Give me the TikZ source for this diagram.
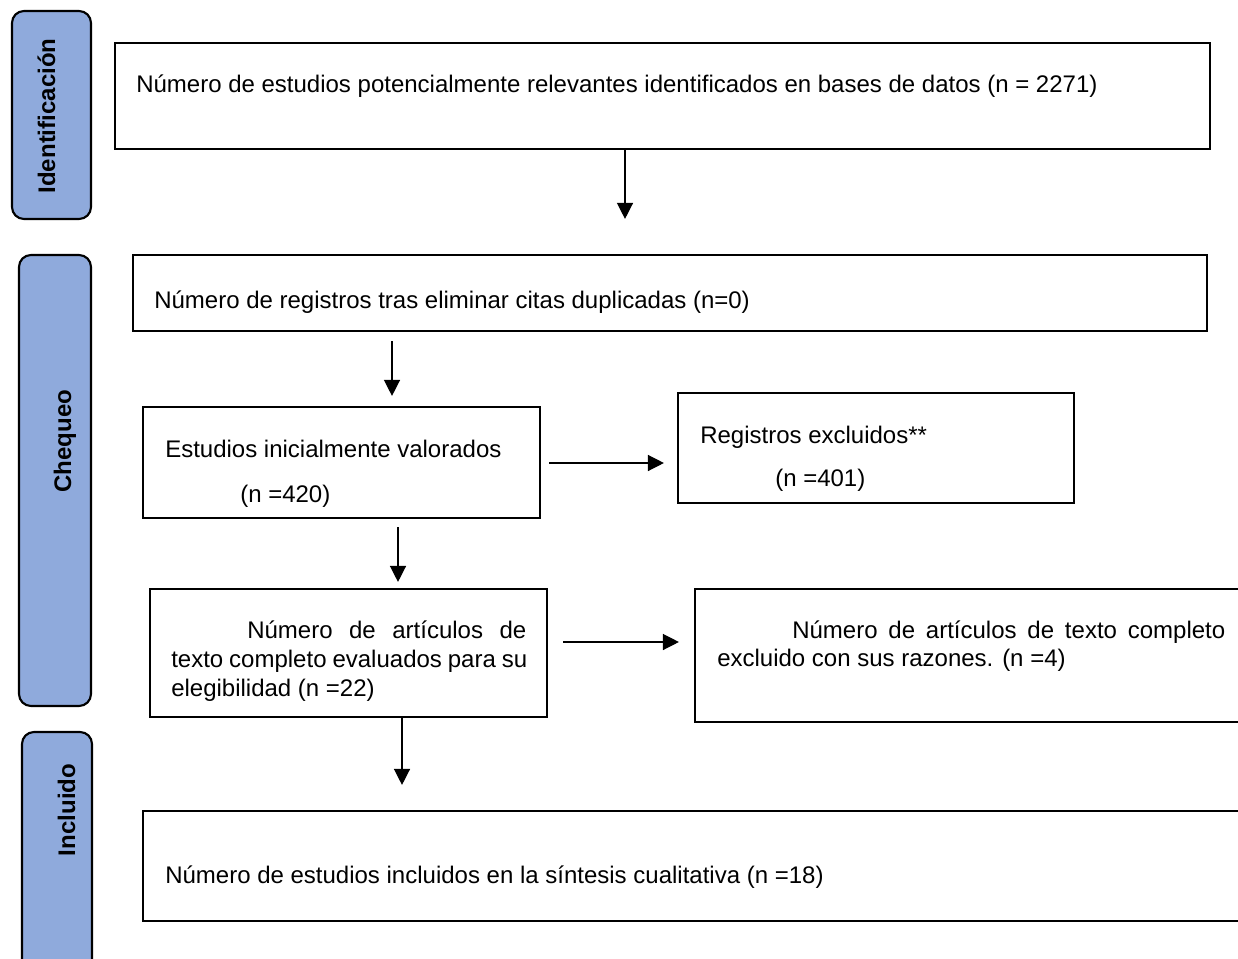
\documentclass[tikz,border=0pt]{standalone}
\usepackage{fontspec}
\setmainfont{Liberation Sans}
\usetikzlibrary{arrows.meta,fit}
\definecolor{tabblue}{HTML}{8FAADC}
\newcommand\diagfont{\fontsize{18}{21.6}\selectfont}
\begin{document}
\begin{tikzpicture}[x=0.75pt,y=-0.75pt,
  box/.style={draw, line width=1.6pt, inner sep=0pt},
  tab/.style={draw, line width=1.6pt, fill=tabblue, rounded corners=9pt, inner sep=0pt},
  txt/.style={inner sep=0pt, anchor=base west, font=\diagfont},
  tabtxt/.style={inner sep=0pt, rotate=90, anchor=base, font=\diagfont\bfseries},
  arr/.style={line width=1pt, -{Triangle[length=12pt,width=12pt]}}]
\clip (0,0) rectangle (1238,959);
\fill[white] (0,0) rectangle (1238,959);
% side tabs
\node[tab, fit={(12,11) (91,219)}] (tid) {};
\node[tab, fit={(19,255) (91,706)}] (tch) {};
\node[tab, fit={(22,732) (92,990)}] (tin) {};
\node[tabtxt] (lid) at (55,116) {Identificación};
\node[tabtxt] (lch) at (71,441) {Chequeo};
\node[tabtxt] (lin) at (75,810) {Incluido};
% boxes
\node[box, fit={(115,43) (1210,149)}] (b1) {};
\node[box, fit={(133,255) (1207,331)}] (b2) {};
\node[box, fit={(143,407) (540,518)}] (b3) {};
\node[box, fit={(678,393) (1074,503)}] (b4) {};
\node[box, fit={(150,589) (547,717)}] (b5) {};
\node[box, fit={(695,589) (1260,722)}] (b6) {};
\node[box, fit={(143,811) (1260,921)}] (b7) {};
% texts
\node[txt] (t1) at (136,93) {Número de estudios potencialmente relevantes identificados en bases de datos (n = 2271)};
\node[txt] (t2) at (154,308) {Número de registros tras eliminar citas duplicadas (n=0)};
\node[txt] (t3a) at (165,457) {Estudios inicialmente valorados};
\node[txt] (t3b) at (240,502) {(n =420)};
\node[txt] (t4a) at (700,443) {Registros excluidos**};
\node[txt] (t4b) at (775,486) {(n =401)};
\node[txt] (t5a) at (247,638) {\makebox[209.25pt][s]{Número de artículos de}};
\node[txt] (t5b) at (171,667) {\makebox[267pt][s]{texto completo evaluados para su}};
\node[txt] (t5c) at (171,696) {elegibilidad (n =22)};
\node[txt] (t6a) at (792,638) {\makebox[324.75pt][s]{Número de artículos de texto completo}};
\node[txt] (t6b) at (717,666) {excluido con sus razones. (n =4)};
\node[txt] (t7) at (165,883) {Número de estudios incluidos en la síntesis cualitativa (n =18)};
% connectors
\coordinate (x1) at (625,0);
\coordinate (x2) at (392,0);
\coordinate (x4) at (398,0);
\coordinate (x6) at (402,0);
\coordinate (y3) at (0,463);
\coordinate (y5) at (0,642);
\draw[arr, shorten >=26.25pt] (b1.south -| x1) -- (b2.north -| x1);
\draw[arr, shorten <=6.75pt, shorten >=7.5pt] (b2.south -| x2) -- (b3.north -| x2);
\draw[arr, shorten <=6pt, shorten >=9.75pt] (b3.east |- y3) -- (b4.west |- y3);
\draw[arr, shorten <=6pt, shorten >=4.5pt] (b3.south -| x4) -- (b5.north -| x4);
\draw[arr, shorten <=11.25pt, shorten >=11.25pt] (b5.east |- y5) -- (b6.west |- y5);
\draw[arr, shorten <=-0.75pt, shorten >=18.75pt] (b5.south -| x6) -- (b7.north -| x6);
\end{tikzpicture}
\end{document}
